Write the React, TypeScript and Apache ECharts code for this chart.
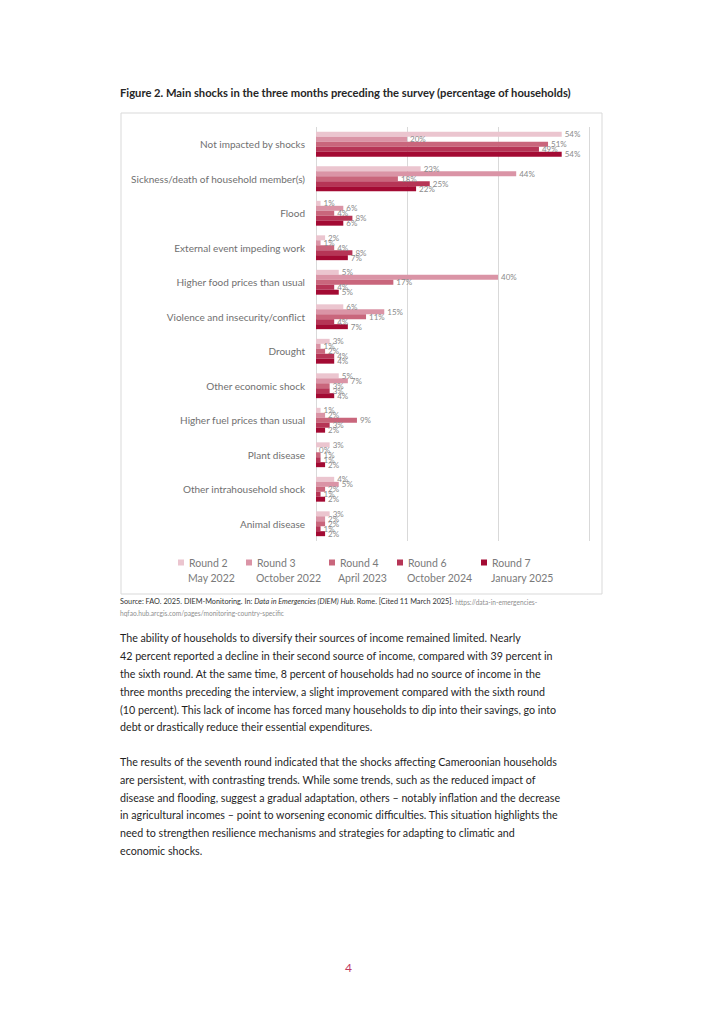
import React, { useEffect, useRef } from "react";
import * as echarts from "echarts";

const categories = [
  "Not impacted by shocks",
  "Sickness/death of household member(s)",
  "Flood",
  "External event impeding work",
  "Higher food prices than usual",
  "Violence and insecurity/conflict",
  "Drought",
  "Other economic shock",
  "Higher fuel prices than usual",
  "Plant disease",
  "Other intrahousehold shock",
  "Animal disease",
];
const roundNames = ["Round 2", "Round 3", "Round 4", "Round 6", "Round 7"];
const roundDates = ["May 2022", "October 2022", "April 2023", "October 2024", "January 2025"];
const round2 = [54, 23, 1, 2, 5, 6, 3, 5, 1, 3, 4, 3];
const round3 = [20, 44, 6, 1, 40, 15, 1, 7, 2, 0, 5, 2];
const round4 = [51, 18, 4, 4, 17, 11, 2, 3, 9, 1, 2, 2];
const round6 = [49, 25, 8, 8, 4, 4, 4, 3, 3, 1, 1, 1];
const round7 = [54, 22, 6, 7, 5, 7, 4, 4, 2, 2, 2, 2];
const seriesValues = [round2, round3, round4, round6, round7];
const colors = ["#ebc5cf", "#da94a6", "#c9667c", "#b63556", "#a30a33"];

const titleText =
  "Figure 2. Main shocks in the three months preceding the survey (percentage of households)";
const para1 = [
  "The ability of households to diversify their sources of income remained limited. Nearly",
  "42 percent reported a decline in their second source of income, compared with 39 percent in",
  "the sixth round. At the same time, 8 percent of households had no source of income in the",
  "three months preceding the interview, a slight improvement compared with the sixth round",
  "(10 percent). This lack of income has forced many households to dip into their savings, go into",
  "debt or drastically reduce their essential expenditures.",
];
const para2 = [
  "The results of the seventh round indicated that the shocks affecting Cameroonian households",
  "are persistent, with contrasting trends. While some trends, such as the reduced impact of",
  "disease and flooding, suggest a gradual adaptation, others \u2013 notably inflation and the decrease",
  "in agricultural incomes \u2013 point to worsening economic difficulties. This situation highlights the",
  "need to strengthen resilience mechanisms and strategies for adapting to climatic and",
  "economic shocks.",
];

const FONT = "Lato, 'Open Sans', sans-serif";

export default function App() {
  const ref = useRef<HTMLDivElement>(null);
  useEffect(() => {
    if (!ref.current) return;
    const chart = echarts.init(ref.current, null, { renderer: "svg" });
    const legendLefts = [178, 246, 329, 397, 481];
    const dateXs = [188, 256, 338, 407, 491];
    chart.setOption({
      animation: false,
      backgroundColor: "#ffffff",
      textStyle: { fontFamily: FONT },
      grid: { left: 316, right: 135, top: 127, bottom: 483, containLabel: false },
      xAxis: {
        type: "value",
        min: 0,
        max: 60,
        interval: 20,
        axisLabel: { show: false },
        axisLine: { show: false },
        axisTick: { show: false },
        splitLine: { show: true, lineStyle: { color: "#d9d9d9", width: 1 } },
      },
      yAxis: {
        type: "category",
        inverse: true,
        data: categories,
        axisLine: { show: false },
        axisTick: { show: false },
        axisLabel: {
          margin: 11,
          fontSize: 10,
          color: "#707070",
          fontFamily: FONT,
        },
      },
      legend: roundNames.map((n, i) => ({
        data: [n],
        left: legendLefts[i],
        top: 557,
        padding: 0,
        icon: "rect",
        itemWidth: 6,
        itemHeight: 6,
        itemGap: 0,
        selectedMode: false,
        textStyle: { fontSize: 10.5, color: "#7a7a7a", fontFamily: FONT },
      })),
      series: roundNames.map((n, i) => ({
        type: "bar",
        name: n,
        data: seriesValues[i],
        barGap: "0%",
        barCategoryGap: "28%",
        itemStyle: { color: colors[i] },
        label: {
          show: true,
          position: "right",
          distance: 3,
          formatter: "{c}%",
          fontSize: 8,
          color: "#8a8a8a",
          fontFamily: FONT,
        },
      })),
      graphic: [
        {
          type: "rect",
          z: -10,
          silent: true,
          shape: { x: 121, y: 113, width: 481, height: 481 },
          style: { fill: "none", stroke: "#d9d9d9", lineWidth: 1 },
        },
        {
          type: "text",
          left: 120,
          top: 87,
          style: {
            text: titleText,
            font: `bold 11.2px ${FONT}`,
            fill: "#262626",
          },
        },
        ...roundDates.map((d, i) => ({
          type: "text",
          x: dateXs[i],
          y: 578,
          style: {
            text: d,
            fontSize: 10.5,
            fontFamily: FONT,
            fill: "#7a7a7a",
            verticalAlign: "middle",
          },
        })),
        {
          type: "text",
          x: 120,
          y: 596,
          style: {
            text:
              "Source: FAO. 2025. DIEM-Monitoring. In: {i|Data in Emergencies (DIEM) Hub}. Rome. [Cited 11 March 2025]. {u|https://data-in-emergencies-}\n{u|hqfao.hub.arcgis.com/pages/monitoring-country-specific}",
            fontSize: 7.3,
            fontFamily: FONT,
            fontWeight: "normal",
            fill: "#333333",
            lineHeight: 11,
            rich: {
              i: { fontStyle: "italic", fontSize: 7.3, fontFamily: FONT, fill: "#333333" },
              u: { fontSize: 6.6, fontFamily: FONT, fill: "#8f8f8f" },
            },
          },
        },
        {
          type: "text",
          x: 120,
          y: 629,
          style: {
            text: para1.join("\n"),
            fontSize: 10.7,
            fontFamily: FONT,
            fill: "#1f1f1f",
            lineHeight: 17.8,
          },
        },
        {
          type: "text",
          x: 120,
          y: 753,
          style: {
            text: para2.join("\n"),
            fontSize: 10.7,
            fontFamily: FONT,
            fill: "#1f1f1f",
            lineHeight: 17.7,
          },
        },
        {
          type: "text",
          x: 345,
          y: 967,
          style: {
            text: "4",
            fontSize: 12,
            fontFamily: FONT,
            fill: "#c13a5f",
            verticalAlign: "middle",
          },
        },
      ],
    });
    return () => chart.dispose();
  }, []);
  return (
    <div
      ref={ref}
      style={{ position: "absolute", left: 0, top: 0, width: 724, height: 1024 }}
    />
  );
}
